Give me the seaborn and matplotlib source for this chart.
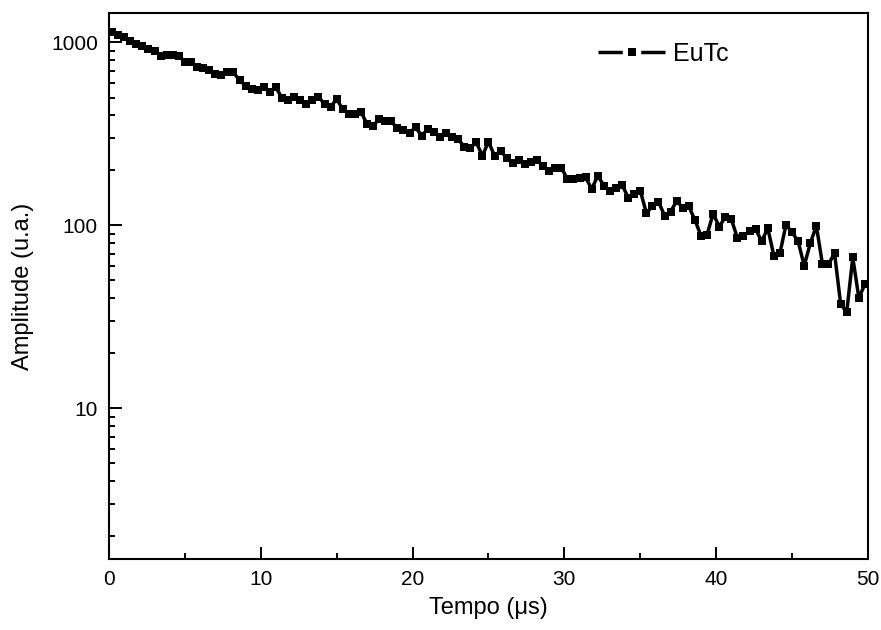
import numpy as np
import pandas as pd
import matplotlib
matplotlib.use("Agg")
import matplotlib.pyplot as plt
from matplotlib.ticker import LogLocator, MultipleLocator, NullFormatter, FixedLocator, FixedFormatter
import seaborn as sns

# ---- data ----
t_start, t_step = 0.2, 0.4   # time grid in microseconds
amplitude = [
    1148, 1102, 1065, 1021, 979, 959, 919, 901, 844, 849,
    849, 844, 787, 778, 730, 721, 703, 671, 661, 692,
    686, 622, 580, 556, 547, 568, 533, 568, 496, 484,
    505, 484, 460, 484, 505, 460, 445, 490, 432, 406,
    406, 418, 358, 351, 381, 373, 370, 339, 332, 322,
    343, 309, 336, 326, 305, 322, 303, 298, 268, 266,
    284, 240, 287, 240, 256, 233, 218, 227, 216, 221,
    227, 212, 199, 206, 207, 179, 179, 181, 183, 158,
    187, 165, 155, 161, 167, 142, 148, 155, 117, 127,
    135, 113, 119, 136, 125, 127, 107, 87.9, 88.9, 116,
    98.4, 111, 108, 85.3, 87.9, 92.7, 95.4, 81.8, 96.7, 68.3,
    70.3, 101, 91.6, 81.8, 60.2, 79.7, 99.6, 61.5, 61.5, 70.3,
    37.2, 33.5, 66.8, 40.1, 47.8,
]
tempo = [round(t_start + t_step * i, 2) for i in range(len(amplitude))]
series_name = "EuTc"
x_ticks = [0, 10, 20, 30, 40, 50]
y_ticks = [10, 100, 1000]

df = pd.DataFrame({"Tempo": tempo, "Amplitude": amplitude, "serie": series_name})

sns.set_style("ticks")
plt.rcParams["font.family"] = ["Liberation Sans", "DejaVu Sans"]
for k in ["text.color", "axes.labelcolor", "xtick.color", "ytick.color", "axes.edgecolor"]:
    plt.rcParams[k] = "black"

fig = plt.figure(figsize=(8.81, 6.30), dpi=100)
ax = fig.add_axes([0.1237, 0.1127, 0.8615, 0.8667])

sns.lineplot(data=df, x="Tempo", y="Amplitude", hue="serie", palette=["black"],
             marker="s", markersize=5.5, markeredgewidth=0, linewidth=2.5,
             ax=ax, legend=True)

ax.set_yscale("log")
ax.set_xlim(0, 50)
ax.set_ylim(1.5, 1450)

ax.xaxis.set_major_locator(FixedLocator(x_ticks))
ax.xaxis.set_major_formatter(FixedFormatter([str(v) for v in x_ticks]))
ax.xaxis.set_minor_locator(MultipleLocator(5))
ax.yaxis.set_major_locator(FixedLocator(y_ticks))
ax.yaxis.set_major_formatter(FixedFormatter([str(v) for v in y_ticks]))
ax.yaxis.set_minor_locator(LogLocator(base=10, subs=np.arange(2, 10), numticks=20))
ax.yaxis.set_minor_formatter(NullFormatter())

ax.tick_params(axis="both", which="major", direction="in", length=9, width=1.4,
               labelsize=15, pad=8)
ax.tick_params(axis="both", which="minor", direction="in", length=4.5, width=1.4)
ax.tick_params(top=False, right=False, which="both")

for s in ax.spines.values():
    s.set_visible(True)
    s.set_linewidth(1.5)
    s.set_color("black")

ax.set_xlabel("Tempo (μs)", fontsize=17, labelpad=6)
ax.set_ylabel("Amplitude (u.a.)", fontsize=17, labelpad=12)

leg = ax.legend(loc="center left", bbox_to_anchor=(0.631, 0.925), frameon=False,
                fontsize=18, handlelength=2.7, handletextpad=0.3, borderaxespad=0)
for h in leg.legend_handles:
    h.set_linewidth(2.5)
    h.set_markersize(5.5)
    h.set_linestyle((0, (7.0, 5.3, 20)))

fig.savefig("out.png", dpi=100)
